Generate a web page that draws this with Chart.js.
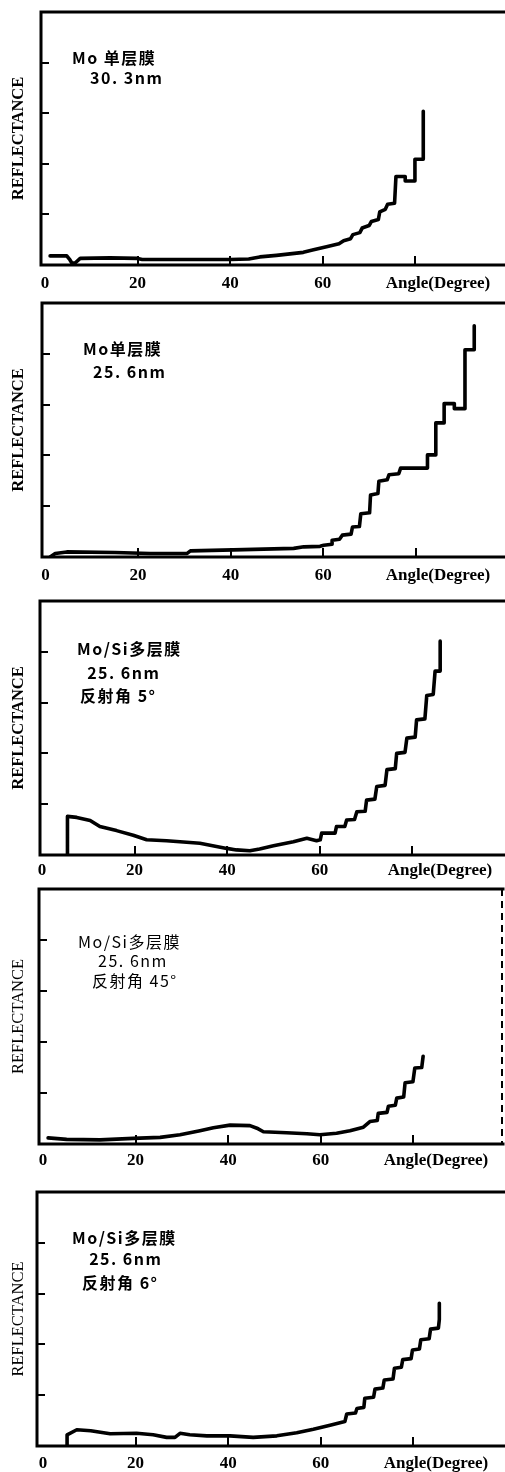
<!DOCTYPE html>
<html><head><meta charset="utf-8">
<script src="https://cdn.jsdelivr.net/npm/chart.js@4.4.1/dist/chart.umd.min.js"></script>
<style>
html,body{margin:0;padding:0;background:#fff;}
#wrap{position:relative;width:505px;height:1472px;overflow:hidden;background:#fff;}
#wrap canvas{position:absolute;left:0;}
.note{position:absolute;white-space:pre;font-family:"Noto Sans CJK SC","Noto Sans",sans-serif;font-size:16px;line-height:20px;color:#000;font-weight:700;letter-spacing:1.5px;}
.note.light{font-weight:400;}
</style></head><body><div id="wrap"></div>
<script>
// ---- shared axis text ----
const xTickValues = [0, 20, 40, 60, 80];
const xTickLabels = ['0', '20', '40', '60', ''];
const xAxisName = 'Angle(Degree)';
const yTickValues = [1, 2, 3, 4];
const yAxisName = 'REFLECTANCE';

// ---- panel 1: Mo single layer 30.3nm ----
const p1Notes = ['Mo 单层膜', '30. 3nm'];
const p1Angle = [1.1, 4.7, 5.4, 5.8, 6.5, 7.6, 14, 20, 21, 30, 40, 44, 46.4, 50, 55.8, 58, 60.8, 63.5, 64.5, 66, 66.5, 68, 68.5, 70, 70.5, 72, 72.3, 73.5, 74, 75.5, 75.8, 77.8, 77.8, 79.9, 79.9, 81.7, 81.7];
const p1Refl  = [0.18, 0.18, 0.10, 0.04, 0.04, 0.13, 0.14, 0.13, 0.11, 0.11, 0.11, 0.12, 0.16, 0.19, 0.25, 0.30, 0.36, 0.42, 0.48, 0.52, 0.60, 0.64, 0.73, 0.78, 0.86, 0.90, 1.05, 1.10, 1.20, 1.22, 1.75, 1.75, 1.66, 1.66, 2.09, 2.09, 3.04];

// ---- panel 2: Mo single layer 25.6nm ----
const p2Notes = ['Mo单层膜', '25. 6nm'];
const p2Angle = [1, 2.1, 4.6, 15, 22.6, 30.6, 31.3, 40.6, 53.6, 55.8, 59.3, 60.1, 61.9, 61.9, 63.5, 64.1, 66, 66.3, 67.8, 68.1, 70, 70.2, 71.8, 72, 73.8, 74.2, 76.3, 76.7, 82.5, 82.5, 84.3, 84.3, 86.1, 86.1, 88.3, 88.3, 90.6, 90.6, 92.6, 92.6];
const p2Refl  = [0, 0.07, 0.10, 0.09, 0.07, 0.07, 0.12, 0.14, 0.17, 0.20, 0.21, 0.23, 0.25, 0.33, 0.35, 0.43, 0.45, 0.59, 0.60, 0.85, 0.87, 1.22, 1.25, 1.49, 1.52, 1.62, 1.64, 1.75, 1.75, 2.01, 2.01, 2.64, 2.64, 3.02, 3.02, 2.92, 2.92, 4.08, 4.08, 4.55];

// ---- panel 3: Mo/Si multilayer, 5 deg ----
const p3Notes = ['Mo/Si多层膜', ' 25. 6nm', '反射角 5°'];
const p3Angle = [5.5, 5.5, 7.5, 10.4, 12.5, 16.1, 19.7, 22.6, 26.9, 29.8, 34.1, 39.9, 42, 44.9, 47, 50, 54.3, 57.2, 59.3, 60.1, 60.4, 63.3, 63.6, 65.4, 65.8, 67.5, 68, 69.8, 70.1, 71.9, 72.3, 74.1, 74.5, 76.3, 76.6, 78.4, 78.8, 80.6, 80.9, 82.7, 83.1, 84.5, 84.9, 86, 86];
const p3Refl  = [0, 0.76, 0.74, 0.68, 0.56, 0.48, 0.39, 0.30, 0.28, 0.26, 0.23, 0.13, 0.10, 0.085, 0.12, 0.18, 0.26, 0.33, 0.28, 0.30, 0.43, 0.43, 0.56, 0.56, 0.69, 0.70, 0.85, 0.86, 1.08, 1.10, 1.35, 1.37, 1.68, 1.70, 2.00, 2.02, 2.30, 2.32, 2.66, 2.68, 3.14, 3.16, 3.62, 3.62, 4.21];

// ---- panel 4: Mo/Si multilayer, 45 deg ----
const p4Notes = ['Mo/Si多层膜', ' 25. 6nm', '反射角 45°'];
const p4Angle = [1.1, 5.1, 12.3, 19.5, 25.3, 29.6, 33.9, 36.8, 40.4, 44.7, 46.2, 47.6, 52.6, 57, 59.8, 63.4, 66.3, 69.2, 70.6, 72.2, 72.4, 74.3, 74.6, 76.1, 76.4, 77.9, 78.2, 79.9, 80.3, 81.8, 82.1];
const p4Refl  = [0.12, 0.09, 0.08, 0.11, 0.13, 0.18, 0.26, 0.32, 0.37, 0.36, 0.31, 0.24, 0.22, 0.20, 0.18, 0.21, 0.26, 0.33, 0.44, 0.46, 0.60, 0.62, 0.74, 0.76, 0.90, 0.92, 1.20, 1.22, 1.49, 1.50, 1.72];

// ---- panel 5: Mo/Si multilayer, 6 deg ----
const p5Notes = ['Mo/Si多层膜', ' 25. 6nm', '反射角 6°'];
const p5Angle = [5.2, 5.2, 7.3, 10.3, 14.5, 20.2, 23.8, 26.7, 28.5, 29.6, 31.7, 35.4, 40.4, 45.4, 50.5, 54.8, 58.4, 62, 65.2, 65.6, 67.5, 67.8, 69.3, 69.5, 71.4, 71.7, 73.4, 73.7, 75.6, 75.9, 77.4, 77.7, 79.5, 79.8, 81.3, 81.6, 83.4, 83.7, 85.4, 85.6, 85.6];
const p5Refl  = [0, 0.22, 0.32, 0.30, 0.24, 0.25, 0.22, 0.17, 0.17, 0.25, 0.22, 0.20, 0.20, 0.17, 0.20, 0.26, 0.33, 0.41, 0.48, 0.63, 0.65, 0.74, 0.76, 0.94, 0.96, 1.12, 1.14, 1.30, 1.32, 1.53, 1.55, 1.70, 1.72, 1.89, 1.91, 2.09, 2.11, 2.30, 2.32, 2.49, 2.81];

// ---- layout (pixels) ----
const W = 510, PADT = 10, PX_PER_DEG = 4.63, Y_MAX = 5;
const panels = [
  {angle:p1Angle, refl:p1Refl, notes:p1Notes, L:41, T:12,   B:265,  R:510, x0:45,   gap:8, bold:true,  nameX:438, noteX:[72,90],      noteY:[57,77]},
  {angle:p2Angle, refl:p2Refl, notes:p2Notes, L:42, T:303,  B:557,  R:510, x0:45.5, gap:8, bold:true,  nameX:438, noteX:[83,93],      noteY:[348,371]},
  {angle:p3Angle, refl:p3Refl, notes:p3Notes, L:40, T:601,  B:855,  R:510, x0:42,   gap:5, bold:true,  nameX:440, noteX:[77,82,80],   noteY:[648,672,695]},
  {angle:p4Angle, refl:p4Refl, notes:p4Notes, L:39, T:889,  B:1144, R:503, x0:43,   gap:6, bold:false, nameX:436, noteX:[78,93,92],   noteY:[941,960,980], light:true, rightDashed:true},
  {angle:p5Angle, refl:p5Refl, notes:p5Notes, L:37, T:1192, B:1446, R:510, x0:43,   gap:7, bold:false, nameX:436, noteX:[72,84,82],   noteY:[1237,1258,1282]}
];

const TICK_FONT = {family:'"Liberation Serif", "Times New Roman", serif', size:17, weight:'bold'};

const framePlugin = {
  id: 'frame',
  beforeDatasetsDraw(chart, args, o) {
    const {ctx, chartArea:a, scales:{x, y}} = chart;
    ctx.save();
    ctx.strokeStyle = '#000';
    ctx.lineWidth = 3;
    ctx.lineCap = 'square';
    ctx.beginPath();
    ctx.moveTo(a.left, a.bottom); ctx.lineTo(a.left, a.top); ctx.lineTo(a.right, a.top);
    ctx.moveTo(a.left, a.bottom); ctx.lineTo(a.right, a.bottom);
    ctx.stroke();
    if (o.rightDashed) {
      ctx.lineWidth = 2; ctx.lineCap = 'butt';
      ctx.setLineDash([7, 5]);
      ctx.beginPath(); ctx.moveTo(a.right - 1, a.top); ctx.lineTo(a.right - 1, a.bottom); ctx.stroke();
      ctx.setLineDash([]);
    }
    ctx.lineWidth = 2; ctx.lineCap = 'butt';
    ctx.beginPath();
    xTickValues.filter(v => v > 0).forEach(v => {
      const px = Math.round(x.getPixelForValue(v));
      ctx.moveTo(px, a.bottom); ctx.lineTo(px, a.bottom - 9);
    });
    yTickValues.forEach(v => {
      const py = Math.round(y.getPixelForValue(v));
      ctx.moveTo(a.left, py); ctx.lineTo(a.left + 8, py);
    });
    ctx.stroke();
    // axis name in place of the last tick label
    ctx.fillStyle = '#000';
    ctx.font = 'bold 17px "Liberation Serif", "Times New Roman", serif';
    ctx.textAlign = 'center';
    ctx.textBaseline = 'middle';
    ctx.fillText(xAxisName, o.nameX, a.bottom + o.gap + 17 * 1.2 / 2);
    ctx.restore();
  }
};

const wrap = document.getElementById('wrap');
panels.forEach(p => {
  const H = p.B - p.T + PADT + 35;
  const cv = document.createElement('canvas');
  cv.width = W; cv.height = H;
  cv.style.width = W + 'px'; cv.style.height = H + 'px';
  cv.style.top = (p.T - PADT) + 'px';
  wrap.appendChild(cv);
  const xmin = -(p.x0 - p.L) / PX_PER_DEG;
  const xmax = xmin + (p.R - p.L) / PX_PER_DEG;
  new Chart(cv, {
    type: 'line',
    data: { datasets: [{
      data: p.angle.map((a, i) => ({x: a, y: p.refl[i]})),
      borderColor: '#000', borderWidth: 3.6, pointRadius: 0, tension: 0, fill: false,
      borderJoinStyle: 'round', borderCapStyle: 'round'
    }]},
    options: {
      responsive: false, animation: false, events: [], devicePixelRatio: 1,
      layout: {padding: {top: PADT, left: 0, right: W - p.R, bottom: 0}},
      plugins: {legend: {display: false}, tooltip: {enabled: false},
        frame: {rightDashed: !!p.rightDashed, nameX: p.nameX, gap: p.gap}},
      scales: {
        x: {
          type: 'linear', min: xmin, max: xmax,
          grid: {display: false, drawTicks: false}, border: {display: false},
          afterBuildTicks: s => { s.ticks = xTickValues.map(v => ({value: v})); },
          afterFit: s => { s.height = H - PADT - (p.B - p.T); },
          ticks: {autoSkip: false, maxRotation: 0, padding: p.gap, color: '#000', font: TICK_FONT,
            callback: v => { const i = xTickValues.indexOf(v); return i >= 0 ? xTickLabels[i] : ''; }}
        },
        y: {
          min: 0, max: Y_MAX,
          grid: {display: false, drawTicks: false}, border: {display: false},
          ticks: {display: false},
          afterBuildTicks: s => { s.ticks = yTickValues.map(v => ({value: v})); },
          afterFit: s => { s.width = p.L; },
          title: {display: true, text: yAxisName, color: '#000', padding: {top: 9, bottom: 0},
            font: {family: '"Liberation Serif", "Times New Roman", serif', size: 16.5, weight: p.bold ? 'bold' : 'normal'}}
        }
      }
    },
    plugins: [framePlugin]
  });
  p.notes.forEach((t, i) => {
    const d = document.createElement('div');
    d.className = 'note' + (p.light ? ' light' : '');
    d.textContent = t;
    d.style.left = p.noteX[i] + 'px';
    d.style.top = (p.noteY[i] - 10) + 'px';
    wrap.appendChild(d);
  });
});
</script></body></html>
